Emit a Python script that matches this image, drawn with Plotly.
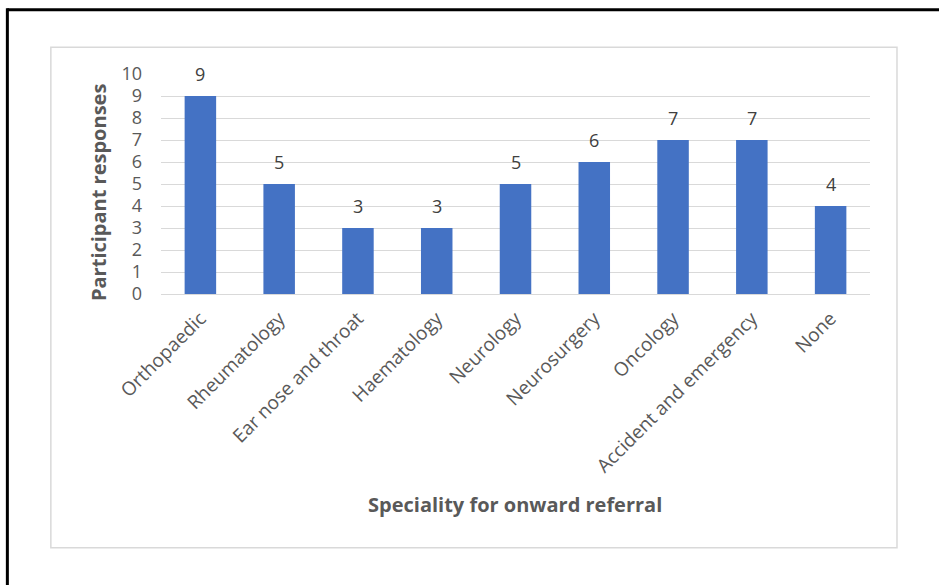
import plotly.graph_objects as go

categories = ["Orthopaedic", "Rheumatology", "Ear nose and throat", "Haematology",
              "Neurology", "Neurosurgery", "Oncology", "Accident and emergency", "None"]
values = [9, 5, 3, 3, 5, 6, 7, 7, 4]
y_ticks = list(range(0, 11))

FONT = "Open Sans"
TXT = "#595959"

fig = go.Figure()
fig.add_trace(go.Bar(x=categories, y=values, marker=dict(color="#4472C4", line=dict(width=0)),
                     width=0.4, showlegend=False, hoverinfo="x+y"))

annotations = []
for c, v in zip(categories, values):
    annotations.append(dict(x=c, y=v, xref="x", yref="y", text=str(v), showarrow=False,
                            yanchor="bottom", yshift=8,
                            font=dict(family=FONT, size=18, color="#404040")))

L, R, T, B = 160.7, 870.0, 74.3, 294.3
W, H = R - L, B - T

def px(x):
    return (x - L) / W

def py(y):
    return (B - y) / H

annotations.append(dict(x=px(98), y=py(193), xref="paper", yref="paper",
                        text="<b>Participant responses</b>", textangle=-90, showarrow=False,
                        xanchor="center", yanchor="middle",
                        font=dict(family=FONT, size=20, color=TXT)))
annotations.append(dict(x=px(515), y=py(505), xref="paper", yref="paper",
                        text="<b>Speciality for onward referral</b>", showarrow=False,
                        xanchor="center", yanchor="middle",
                        font=dict(family=FONT, size=20, color=TXT)))

shapes = [
    dict(type="rect", xref="paper", yref="paper", x0=px(50.5), x1=px(897), y0=py(548), y1=py(47.5),
         line=dict(color="#d9d9d9", width=1.5), fillcolor="rgba(0,0,0,0)", layer="below"),
    dict(type="line", xref="paper", yref="paper", x0=px(7), x1=px(945), y0=py(10), y1=py(10),
         line=dict(color="black", width=3)),
    dict(type="line", xref="paper", yref="paper", x0=px(7), x1=px(7), y0=py(8.5), y1=py(600),
         line=dict(color="black", width=3)),
]

fig.update_layout(
    width=939, height=585,
    margin=dict(l=L, r=939 - R, t=T, b=585 - B, pad=0),
    paper_bgcolor="white", plot_bgcolor="white",
    bargap=0.6,
    font=dict(family=FONT, color=TXT),
    annotations=annotations, shapes=shapes,
    xaxis=dict(showgrid=False, showline=True, linecolor="#d9d9d9", linewidth=1,
               tickangle=-45, ticks="", ticklabelstandoff=5,
               tickfont=dict(family=FONT, size=19, color=TXT)),
    yaxis=dict(range=[0, 10], tickvals=y_ticks, ticktext=[str(t) for t in y_ticks],
               showgrid=True, gridcolor="#d9d9d9", gridwidth=1, zeroline=False,
               showline=False, ticks="", ticklabelstandoff=18,
               tickfont=dict(family=FONT, size=18, color=TXT)),
)

fig.write_html("out.html")
